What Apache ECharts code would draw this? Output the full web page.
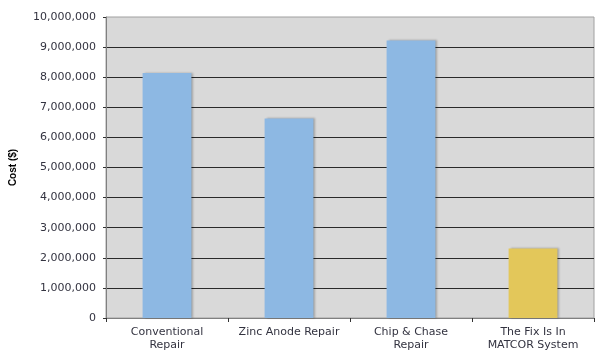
<!DOCTYPE html>
<html>
<head>
<meta charset="utf-8">
<script src="https://cdn.jsdelivr.net/npm/echarts@6/dist/echarts.min.js"></script>
<style>
  html, body { margin: 0; padding: 0; background: #fff; }
  #chart { width: 596px; height: 352px; }
</style>
</head>
<body>
<div id="chart"></div>
<script>
const categories = [
  'Conventional\nRepair',
  'Zinc Anode Repair',
  'Chip & Chase\nRepair',
  'The Fix Is In\nMATCOR System'
];
const costs = [8140000, 6630000, 9220000, 2310000];
const barColors = ['#8db8e3', '#8db8e3', '#8db8e3', '#e3c75a'];

const chart = echarts.init(document.getElementById('chart'));

const option = {
  animation: false,
  textStyle: { fontFamily: 'DejaVu Sans' },
  grid: {
    left: 106,
    right: 2,
    top: 17,
    bottom: 34,
    show: true,
    backgroundColor: '#d9d9d9',
    borderColor: '#a0a0a0',
    borderWidth: 1
  },
  xAxis: {
    type: 'category',
    data: categories,
    axisLine: { lineStyle: { color: '#808080', width: 1 } },
    axisTick: { show: true, length: 4, lineStyle: { color: '#333' } },
    axisLabel: {
      color: '#333340',
      fontSize: 11,
      lineHeight: 13,
      margin: 8,
      interval: 0
    }
  },
  yAxis: {
    type: 'value',
    min: 0,
    max: 10000000,
    interval: 1000000,
    name: 'Cost ($)',
    nameLocation: 'middle',
    nameRotate: 90,
    nameGap: 88,
    nameTextStyle: {
      fontFamily: 'Liberation Sans',
      fontWeight: 'bold',
      fontSize: 10,
      color: '#000'
    },
    axisLine: { show: true, lineStyle: { color: '#808080', width: 1 } },
    axisTick: { show: true, length: 3, lineStyle: { color: '#333' } },
    splitLine: { showMaxLine: false, lineStyle: { color: '#2a2a2a', width: 1 } },
    axisLabel: {
      color: '#333340',
      fontSize: 11,
      margin: 10,
      formatter: v => v.toLocaleString('en-US')
    }
  },
  series: [
    {
      type: 'bar',
      barWidth: '40%',
      data: costs,
      itemStyle: {
        color: p => barColors[p.dataIndex],
        shadowColor: 'rgba(0,0,0,0.25)',
        shadowOffsetX: 2,
        shadowBlur: 2
      }
    }
  ]
};

option && chart.setOption(option);
</script>
</body>
</html>
